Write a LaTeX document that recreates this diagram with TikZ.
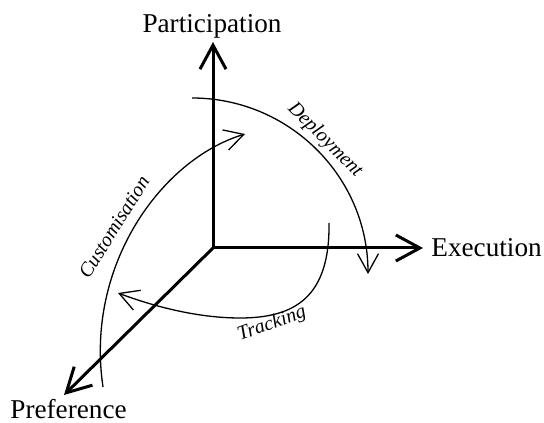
\documentclass[tikz,border=0pt]{standalone}
\usepackage{fontspec}
\setmainfont{Liberation Serif}
\usetikzlibrary{arrows.meta, positioning}

\begin{document}
\begin{tikzpicture}[x=0.5pt, y=0.5pt,
    axis/.style={line width=1.5pt, -{Straight Barb[length=12pt, width=13pt]}},
    flow/.style={line width=0.65pt, -{Straight Barb[length=9.5pt, width=10.5pt]}},
    dim/.style={font=\fontsize{13.6}{16}\selectfont, inner sep=0pt},
    act/.style={font=\fontsize{10}{12}\selectfont\itshape, inner sep=0pt}]
    \useasboundingbox (0,0) rectangle (544,422);

    % axes
    \coordinate (o) at (213,174);
    \coordinate (ptip) at (213,380);
    \coordinate (etip) at (423,174);
    \coordinate (rtip) at (64,27);
    \draw[axis] (o) -- (ptip);
    \draw[axis] (o) -- (etip);
    \draw[axis] (o) -- (rtip);

    \node[dim, anchor=base] (part) at (212,389) {Participation};
    \node[dim, anchor=base west] (exec) at (431,165) {Execution};
    \node[dim, anchor=base west] (pref) at (10,4) {Preference};

    % the three loops
    \coordinate (dstart) at (192,324);
    \coordinate (cstart) at (103,35);
    \coordinate (cend) at (245,288);
    \coordinate (tstart) at (329,199);
    \coordinate (tmid) at (240,104);
    \coordinate (tend) at (118,129);

    \draw[flow] (dstart) arc[start angle=90, end angle=0, radius=176];
    \draw[flow] (cstart) .. controls (85,155) and (160,262) .. (cend);
    \draw[flow] (tstart) .. controls (330,125) and (295,104) .. (tmid)
        .. controls (195,104) and (150,117) .. (tend);

    \node[act, rotate=-45] (depl) at (325,282) {Deployment};
    \node[act, rotate=58] (cust) at (114,195) {Customisation};
    \node[act, rotate=20] (track) at (272,98) {Tracking};
\end{tikzpicture}
\end{document}
